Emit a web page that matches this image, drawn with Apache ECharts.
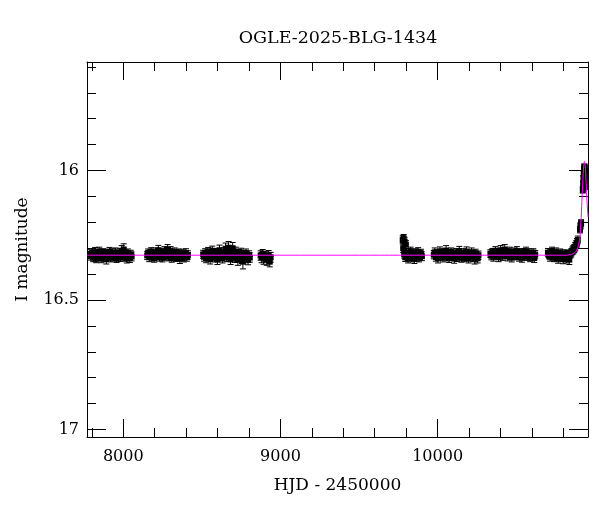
<!DOCTYPE html>
<html>
<head>
<meta charset="utf-8">
<script src="https://cdn.jsdelivr.net/npm/echarts@6/dist/echarts.min.js"></script>
<style>html,body{margin:0;padding:0;background:#fff}#chart{width:600px;height:512px}</style>
</head>
<body>
<div id="chart"></div>
<script>
// ---- data: [HJD-2450000, I mag, error] ----
const season2017 = [[7788,16.322,0.016],[7795,16.331,0.015],[7801,16.318,0.017],[7808,16.336,0.016],[7814,16.327,0.014],[7821,16.315,0.018],[7827,16.340,0.016],[7834,16.324,0.015],[7840,16.333,0.017],[7847,16.312,0.016],[7853,16.329,0.015],[7860,16.338,0.018],[7866,16.321,0.016],[7873,16.317,0.015],[7879,16.335,0.017],[7886,16.326,0.016],[7892,16.342,0.019],[7899,16.319,0.015],[7905,16.330,0.016],[7912,16.314,0.017],[7918,16.337,0.016],[7925,16.325,0.015],[7931,16.320,0.018],[7938,16.334,0.016],[7944,16.328,0.015],[7951,16.316,0.017],[7957,16.339,0.016],[7964,16.323,0.015],[7970,16.331,0.019],[7977,16.318,0.016],[7983,16.336,0.015],[7990,16.310,0.020],[7996,16.327,0.016],[8003,16.305,0.022],[8009,16.333,0.016],[8016,16.322,0.015],[8022,16.340,0.017],[8029,16.319,0.016],[8035,16.329,0.015],[8042,16.337,0.018],[8048,16.324,0.016],[8053,16.332,0.017]];
const season2018 = [[8152,16.328,0.016],[8158,16.318,0.015],[8165,16.335,0.017],[8171,16.322,0.016],[8178,16.313,0.015],[8184,16.331,0.018],[8191,16.326,0.016],[8197,16.339,0.015],[8204,16.316,0.017],[8210,16.329,0.016],[8217,16.321,0.015],[8223,16.308,0.019],[8230,16.334,0.016],[8236,16.324,0.015],[8243,16.317,0.017],[8249,16.337,0.016],[8256,16.327,0.015],[8262,16.312,0.018],[8269,16.330,0.016],[8275,16.320,0.015],[8282,16.306,0.020],[8288,16.333,0.016],[8295,16.325,0.015],[8301,16.311,0.017],[8308,16.338,0.016],[8314,16.322,0.015],[8321,16.329,0.018],[8327,16.315,0.016],[8334,16.336,0.015],[8340,16.323,0.017],[8347,16.330,0.016],[8353,16.318,0.015],[8360,16.341,0.018],[8366,16.326,0.016],[8373,16.333,0.015],[8379,16.321,0.017],[8386,16.337,0.016],[8392,16.328,0.015],[8399,16.319,0.017],[8405,16.334,0.016],[8411,16.326,0.016]];
const season2019 = [[8508,16.324,0.016],[8514,16.333,0.017],[8521,16.318,0.016],[8527,16.338,0.018],[8534,16.326,0.016],[8540,16.314,0.017],[8547,16.331,0.016],[8553,16.342,0.019],[8560,16.322,0.016],[8566,16.310,0.018],[8573,16.329,0.016],[8579,16.336,0.017],[8586,16.317,0.016],[8592,16.327,0.018],[8599,16.344,0.019],[8605,16.320,0.016],[8612,16.308,0.020],[8618,16.332,0.017],[8625,16.325,0.016],[8631,16.339,0.018],[8638,16.315,0.017],[8644,16.328,0.016],[8651,16.302,0.022],[8657,16.335,0.017],[8664,16.321,0.016],[8670,16.298,0.024],[8677,16.331,0.018],[8683,16.343,0.020],[8690,16.318,0.017],[8696,16.300,0.022],[8703,16.327,0.016],[8709,16.337,0.018],[8716,16.313,0.017],[8722,16.329,0.016],[8729,16.345,0.021],[8735,16.322,0.017],[8742,16.334,0.018],[8748,16.316,0.016],[8755,16.340,0.019],[8761,16.352,0.028],[8768,16.326,0.017],[8774,16.338,0.018],[8781,16.319,0.016],[8787,16.333,0.017],[8794,16.345,0.019],[8800,16.327,0.017],[8805,16.336,0.018]];
const season2020 = [[8874,16.328,0.018],[8880,16.336,0.020],[8887,16.322,0.017],[8893,16.340,0.022],[8906,16.331,0.019],[8913,16.345,0.021],[8925,16.327,0.018],[8932,16.352,0.020],[8938,16.335,0.019]];
const season2022 = [[9778,16.268,0.016],[9781,16.300,0.017],[9784,16.262,0.015],[9787,16.322,0.016],[9790,16.275,0.017],[9794,16.335,0.016],[9798,16.286,0.016],[9802,16.318,0.017],[9807,16.327,0.016],[9812,16.340,0.017],[9816,16.318,0.016],[9822,16.327,0.017],[9828,16.312,0.016],[9834,16.335,0.018],[9840,16.322,0.016],[9846,16.330,0.017],[9852,16.341,0.018],[9858,16.318,0.016],[9864,16.333,0.017],[9870,16.325,0.016],[9876,16.315,0.017],[9882,16.337,0.016],[9888,16.326,0.017],[9894,16.320,0.016],[9900,16.331,0.017]];
const season2023 = [[9976,16.325,0.016],[9982,16.316,0.017],[9989,16.334,0.016],[9995,16.321,0.015],[10002,16.339,0.018],[10008,16.327,0.016],[10015,16.312,0.017],[10021,16.330,0.016],[10028,16.323,0.015],[10034,16.336,0.017],[10041,16.318,0.016],[10047,16.329,0.015],[10054,16.309,0.019],[10060,16.333,0.016],[10067,16.324,0.015],[10073,16.338,0.017],[10080,16.320,0.016],[10086,16.314,0.015],[10093,16.331,0.017],[10099,16.326,0.016],[10106,16.340,0.018],[10112,16.322,0.015],[10119,16.317,0.016],[10125,16.334,0.017],[10132,16.328,0.015],[10138,16.311,0.018],[10145,16.330,0.016],[10151,16.337,0.017],[10158,16.324,0.015],[10164,16.318,0.016],[10171,16.335,0.017],[10177,16.327,0.016],[10184,16.313,0.018],[10190,16.332,0.015],[10197,16.340,0.017],[10203,16.323,0.016],[10210,16.329,0.015],[10216,16.316,0.017],[10223,16.336,0.016],[10229,16.325,0.015],[10236,16.342,0.019],[10242,16.320,0.016],[10249,16.331,0.017],[10255,16.339,0.018],[10260,16.327,0.016]];
const season2024 = [[10336,16.321,0.015],[10342,16.329,0.016],[10349,16.316,0.015],[10355,16.333,0.017],[10362,16.324,0.015],[10368,16.310,0.016],[10375,16.327,0.015],[10381,16.319,0.016],[10388,16.335,0.017],[10394,16.322,0.015],[10401,16.308,0.018],[10407,16.326,0.015],[10414,16.331,0.016],[10420,16.314,0.015],[10427,16.305,0.019],[10433,16.323,0.015],[10440,16.318,0.016],[10446,16.332,0.017],[10453,16.320,0.015],[10459,16.312,0.016],[10466,16.328,0.015],[10472,16.336,0.017],[10479,16.321,0.015],[10485,16.315,0.016],[10492,16.330,0.015],[10498,16.324,0.016],[10505,16.311,0.017],[10511,16.327,0.015],[10518,16.334,0.016],[10524,16.319,0.015],[10531,16.325,0.016],[10537,16.337,0.017],[10544,16.316,0.015],[10550,16.329,0.016],[10557,16.322,0.015],[10563,16.313,0.017],[10570,16.331,0.016],[10576,16.326,0.015],[10583,16.318,0.016],[10589,16.335,0.017],[10596,16.323,0.015],[10602,16.330,0.016],[10609,16.317,0.015],[10615,16.338,0.017],[10621,16.325,0.016]];
const season2025 = [[10702,16.317,0.016],[10708,16.326,0.015],[10715,16.333,0.017],[10721,16.320,0.016],[10728,16.311,0.015],[10734,16.329,0.017],[10741,16.336,0.016],[10747,16.323,0.015],[10754,16.315,0.016],[10760,16.332,0.017],[10767,16.340,0.018],[10773,16.326,0.016],[10780,16.318,0.015],[10786,16.335,0.017],[10793,16.328,0.016],[10799,16.342,0.018],[10806,16.321,0.015],[10812,16.334,0.016],[10819,16.339,0.018],[10825,16.325,0.016],[10832,16.331,0.017],[10838,16.344,0.019],[10845,16.322,0.016],[10851,16.318,0.016],[10858,16.310,0.015],[10864,16.306,0.016],[10870,16.301,0.015],[10876,16.294,0.016],[10882,16.286,0.015],[10887,16.279,0.016],[10892,16.268,0.015]];
const eventPeak = [[10906,16.228,0.013],[10909,16.214,0.012],[10913,16.203,0.013],[10924,16.075,0.012],[10926,16.052,0.011],[10928,16.030,0.011],[10930,16.012,0.010],[10932,15.995,0.010],[10934,15.985,0.010],[10936,15.990,0.010],[10938,16.002,0.011],[10940,16.020,0.011],[10942,16.045,0.012],[10944,16.062,0.012]];

// model light curve [HJD-2450000, I mag]
const modelCurve = [[7769,16.327],[10800,16.327],[10850,16.325],[10870,16.318],[10886,16.307],[10898,16.285],[10906,16.255],[10912,16.20],[10918,16.12],[10924,16.04],[10930,15.98],[10934,15.965],[10938,15.975],[10942,16.01],[10946,16.06],[10950,16.11],[10955,16.16],[10958,16.18]];

// axis ticks
const xMajorTicks = [8000, 9000, 10000];
const xMinorTicks = [7800,8000,8200,8400,8600,8800,9000,9200,9400,9600,9800,10000,10200,10400,10600,10800];
const yMajorTicks = [16, 16.5, 17];
const yMinorTicks = [15.6,15.7,15.8,15.9,16.0,16.1,16.2,16.3,16.4,16.5,16.6,16.7,16.8,16.9,17.0];

const X_MIN = 7769, X_MAX = 10957, Y_MIN = 15.581, Y_MAX = 17.029;
const FONT = 'DejaVu Serif';

const photometry = [].concat(season2017, season2018, season2019, season2020, season2022, season2023, season2024, season2025, eventPeak);

const chart = echarts.init(document.getElementById('chart'), null, {renderer: 'canvas'});
const black = {color: '#000', width: 1};

function xAx(pos, ticks, len, main) {
  return {
    type: 'value', position: pos, min: X_MIN, max: X_MAX, gridIndex: 0,
    axisLine: {show: main, onZero: false, lineStyle: black},
    axisTick: {show: true, inside: true, length: len, customValues: ticks, lineStyle: black},
    axisLabel: (main && pos === 'bottom') ? {show: true, customValues: xMajorTicks, formatter: function (v) { return String(v); }, color: '#000', fontFamily: FONT, fontSize: 16, margin: 12} : {show: false},
    splitLine: {show: false},
    name: (main && pos === 'bottom') ? 'HJD - 2450000' : '',
    nameLocation: 'middle', nameGap: 40,
    nameTextStyle: {color: '#000', fontFamily: FONT, fontSize: 17}
  };
}
function yAx(pos, ticks, len, main) {
  return {
    type: 'value', position: pos, min: Y_MIN, max: Y_MAX, inverse: true, gridIndex: 0,
    axisLine: {show: main, onZero: false, lineStyle: black},
    axisTick: {show: true, inside: true, length: len, customValues: ticks, lineStyle: black},
    axisLabel: (main && pos === 'left') ? {show: true, customValues: yMajorTicks, color: '#000', fontFamily: FONT, fontSize: 16, margin: 8} : {show: false},
    splitLine: {show: false},
    name: (main && pos === 'left') ? 'I magnitude' : '',
    nameLocation: 'middle', nameGap: 56, nameRotate: 90,
    nameTextStyle: {color: '#000', fontFamily: FONT, fontSize: 17}
  };
}

function renderPoint(params, api) {
  const t = api.value(0), m = api.value(1), e = api.value(2);
  const c = api.coord([t, m]);
  const up = api.coord([t, m - e]);
  const dn = api.coord([t, m + e]);
  const cap = 3, s = 3;
  const st = {stroke: '#000', lineWidth: 1};
  return {
    type: 'group',
    children: [
      {type: 'line', shape: {x1: c[0], y1: up[1], x2: c[0], y2: dn[1]}, style: st},
      {type: 'line', shape: {x1: c[0] - cap, y1: up[1], x2: c[0] + cap, y2: up[1]}, style: st},
      {type: 'line', shape: {x1: c[0] - cap, y1: dn[1], x2: c[0] + cap, y2: dn[1]}, style: st},
      {type: 'rect', shape: {x: c[0] - s, y: c[1] - s, width: 2 * s, height: 2 * s}, style: {fill: '#000'}}
    ]
  };
}

chart.setOption({
  animation: false,
  backgroundColor: '#fff',
  title: {
    text: 'OGLE-2025-BLG-1434', left: 333, top: 24, textAlign: 'center',
    textStyle: {color: '#000', fontFamily: FONT, fontSize: 17.5, fontWeight: 'normal'}
  },
  grid: {left: 87, top: 62, width: 501, height: 375, containLabel: false},
  xAxis: [xAx('bottom', xMajorTicks, 18, true), xAx('bottom', xMinorTicks, 9, false), xAx('top', xMajorTicks, 18, true), xAx('top', xMinorTicks, 9, false)],
  yAxis: [yAx('left', yMajorTicks, 19, true), yAx('left', yMinorTicks, 9, false), yAx('right', yMajorTicks, 19, true), yAx('right', yMinorTicks, 9, false)],
  series: [
    {
      type: 'custom', xAxisIndex: 0, yAxisIndex: 0, clip: true,
      renderItem: renderPoint, encode: {x: 0, y: 1}, data: photometry, z: 2
    },
    {
      type: 'line', xAxisIndex: 0, yAxisIndex: 0, data: modelCurve, showSymbol: false, smooth: 0.3,
      lineStyle: {color: '#ff00ff', width: 1, opacity: 1}, clip: true, z: 3
    }
  ]
});
</script>
</body>
</html>
